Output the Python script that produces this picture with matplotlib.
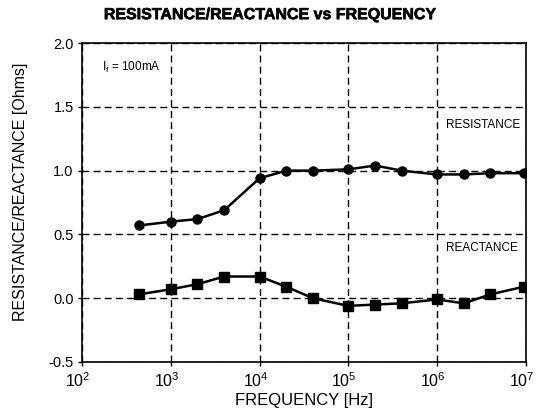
import matplotlib
matplotlib.use("Agg")
import matplotlib.pyplot as plt
import matplotlib.patheffects as pe
from matplotlib.ticker import LogLocator, FixedLocator
from matplotlib.transforms import ScaledTranslation

plt.rcParams['font.family'] = ['Liberation Sans', 'DejaVu Sans']
plt.rcParams['mathtext.fontset'] = 'custom'
plt.rcParams['mathtext.rm'] = 'Liberation Sans'
plt.rcParams['mathtext.it'] = 'Liberation Sans:italic'
plt.rcParams['mathtext.bf'] = 'Liberation Sans:bold'

freq = [440, 1000, 2000, 4000, 10000, 20000, 40000, 100000, 200000,
        400000, 1000000, 2000000, 4000000, 9500000]
resistance = [0.57, 0.60, 0.62, 0.69, 0.94, 1.00, 1.00, 1.01, 1.04,
              1.00, 0.97, 0.97, 0.98, 0.98]
reactance = [0.03, 0.07, 0.11, 0.17, 0.17, 0.09, 0.00, -0.06, -0.05,
             -0.04, -0.01, -0.04, 0.03, 0.09]
yticks = [-0.5, 0.0, 0.5, 1.0, 1.5, 2.0]
title = "RESISTANCE/REACTANCE vs FREQUENCY"

fig = plt.figure(figsize=(5.36, 4.18), dpi=100)
ax = fig.add_axes([0.153, 0.134, 0.828, 0.763])

ax.plot(freq, resistance, color='black', lw=1.8, marker='o', ms=6.5)
ax.plot(freq, reactance, color='black', lw=1.8, marker='s', ms=6.5)

ax.set_xscale('log')
ax.set_xlim(1e2, 1e7)
ax.set_ylim(-0.5, 2.0)
ax.set_yticks(yticks)
ax.set_yticklabels([f"{v:.1f}" for v in yticks])
ax.xaxis.set_major_locator(LogLocator(base=10, numticks=10))
ax.xaxis.set_minor_locator(FixedLocator([]))

ax.grid(True, which='major', color='black', ls=(0, (5, 3)), lw=1.0)
for s in ax.spines.values():
    s.set_linewidth(1.2)
ax.tick_params(axis='both', labelsize=10.5, length=3, width=1, direction='out', pad=3)
ax.tick_params(axis='x', labelsize=11.5, pad=4)

fig.canvas.draw()
shift = ScaledTranslation(-4 / 100, 0, fig.dpi_scale_trans)
for lab in ax.get_xticklabels():
    lab.set_transform(lab.get_transform() + shift)

ax.set_xlabel("FREQUENCY [Hz]", fontsize=12, labelpad=2)
ax.set_ylabel("RESISTANCE/REACTANCE [Ohms]", fontsize=11.5)
ax.yaxis.set_label_coords(-0.122, 0.535)
fig.text(0.505, 0.965, title, ha='center', va='center', fontsize=11.5,
         fontweight='bold',
         path_effects=[pe.withStroke(linewidth=0.45, foreground='black')])

ax.text(0.045, 0.925, r"I$_\mathregular{f}$ = 100mA", transform=ax.transAxes,
        fontsize=8.5, ha='left', va='center')
ax.text(1.25e6, 1.36, "RESISTANCE", fontsize=8.5, ha='left', va='center')
ax.text(1.25e6, 0.39, "REACTANCE", fontsize=8.5, ha='left', va='center')

fig.savefig("out.png", dpi=100)
